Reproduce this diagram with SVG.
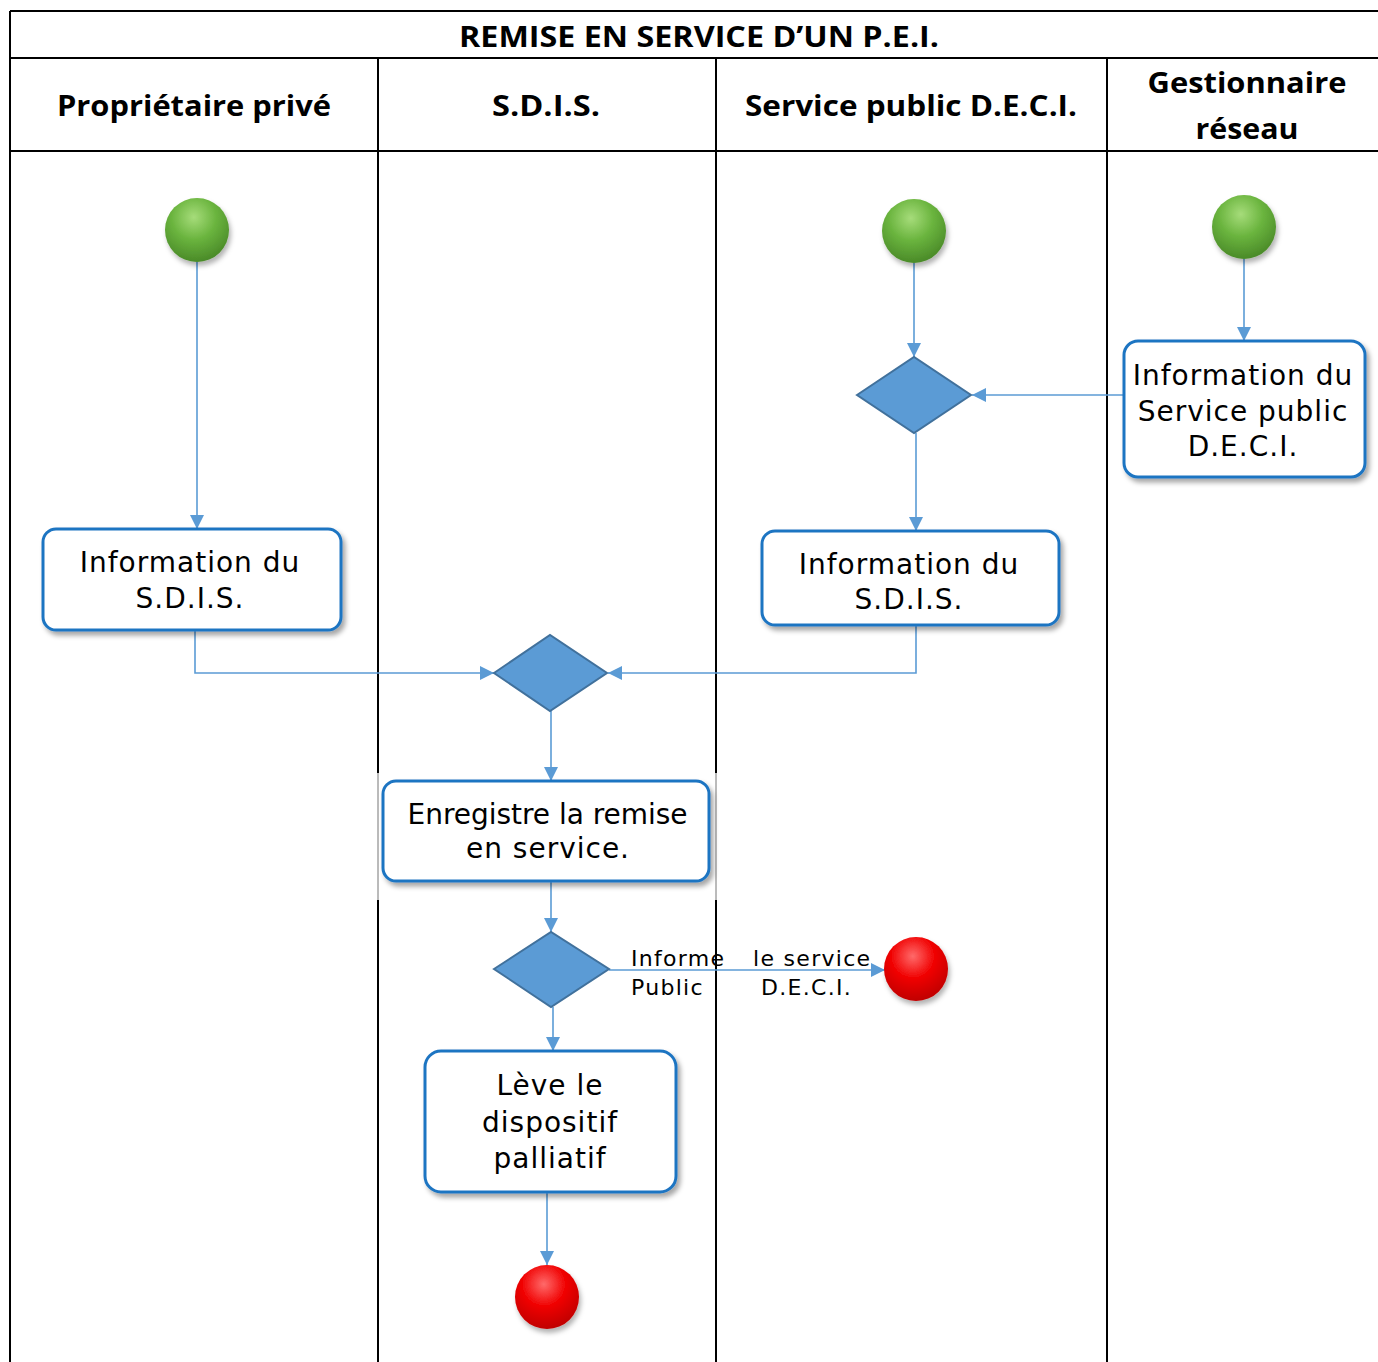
<svg xmlns="http://www.w3.org/2000/svg" width="1378" height="1362" viewBox="0 0 1378 1362">
<defs>
<style>
.grid{stroke:#000;stroke-width:2;fill:none}
.hdr{font-family:"Open Sans","Liberation Sans",sans-serif;font-weight:bold;font-size:29px;fill:#000;text-anchor:middle}
.box{fill:#fff;stroke:#1f74c2;stroke-width:3;filter:url(#sh)}
.txt{font-family:"DejaVu Sans","Liberation Sans",sans-serif;font-size:28px;letter-spacing:1px;fill:#000;text-anchor:middle}
.lbl{font-family:"DejaVu Sans","Liberation Sans",sans-serif;font-size:22px;letter-spacing:1.3px;fill:#000}
.con{stroke:#5b9bd5;stroke-width:1.6;fill:none;marker-end:url(#arr)}
.dia{fill:#5b9bd5;stroke:#41719c;stroke-width:2}
</style>
<marker id="arr" viewBox="0 0 10 10" refX="10" refY="5" markerWidth="14" markerHeight="14" markerUnits="userSpaceOnUse" orient="auto">
<path d="M0,0 L10,5 L0,10 z" fill="#5b9bd5"/>
</marker>
<filter id="sh" x="-10%" y="-10%" width="125%" height="130%">
<feDropShadow dx="3" dy="4" stdDeviation="2.5" flood-color="#000" flood-opacity="0.35"/>
</filter>
<radialGradient id="gG" cx="45%" cy="30%" r="70%">
<stop offset="0" stop-color="#a6dc7a"/>
<stop offset="0.5" stop-color="#6ab43e"/>
<stop offset="1" stop-color="#4a8a28"/>
</radialGradient>
<radialGradient id="gR" cx="45%" cy="30%" r="70%">
<stop offset="0" stop-color="#ff6a6a"/>
<stop offset="0.5" stop-color="#f00000"/>
<stop offset="1" stop-color="#c00000"/>
</radialGradient>
<filter id="csh" x="-30%" y="-30%" width="170%" height="170%">
<feDropShadow dx="2" dy="4" stdDeviation="2.5" flood-color="#000" flood-opacity="0.3"/>
</filter>
</defs>
<rect width="1378" height="1362" fill="#fff"/>
<g id="table">
<line class="grid" x1="10" y1="11" x2="1378" y2="11"/>
<line class="grid" x1="10" y1="58" x2="1378" y2="58"/>
<line class="grid" x1="10" y1="151" x2="1378" y2="151"/>
<line class="grid" x1="10" y1="11" x2="10" y2="1362"/>
<line class="grid" x1="378" y1="58" x2="378" y2="773"/>
<line class="grid" x1="378" y1="900" x2="378" y2="1362"/>
<line x1="378" y1="773" x2="378" y2="900" stroke="#777" stroke-width="1"/>
<line class="grid" x1="716" y1="58" x2="716" y2="773"/>
<line class="grid" x1="716" y1="900" x2="716" y2="1362"/>
<line x1="716" y1="773" x2="716" y2="900" stroke="#777" stroke-width="1"/>
<line class="grid" x1="1107" y1="58" x2="1107" y2="1362"/>
<text class="hdr" x="699" y="47" textLength="480" lengthAdjust="spacingAndGlyphs">REMISE EN SERVICE D’UN P.E.I.</text>
<text class="hdr" x="194" y="116" textLength="274" lengthAdjust="spacingAndGlyphs">Propriétaire privé</text>
<text class="hdr" x="546" y="116" textLength="108" lengthAdjust="spacingAndGlyphs">S.D.I.S.</text>
<text class="hdr" x="911" y="116" textLength="332" lengthAdjust="spacingAndGlyphs">Service public D.E.C.I.</text>
<text class="hdr" x="1247" y="93" textLength="199" lengthAdjust="spacingAndGlyphs">Gestionnaire</text>
<text class="hdr" x="1247" y="139" textLength="103" lengthAdjust="spacingAndGlyphs">réseau</text>
</g>
<g id="connectors">
<line class="con" x1="197" y1="262" x2="197" y2="529"/>
<line class="con" x1="914" y1="263" x2="914" y2="357"/>
<line class="con" x1="1244" y1="259" x2="1244" y2="341"/>
<line class="con" x1="1124" y1="395" x2="972" y2="395"/>
<line class="con" x1="916" y1="433" x2="916" y2="531"/>
<polyline class="con" points="916,625 916,673 608,673"/>
<polyline class="con" points="195,630 195,673 494,673"/>
<line class="con" x1="551" y1="711" x2="551" y2="781"/>
<line class="con" x1="551" y1="881" x2="551" y2="932"/>
<line class="con" x1="609" y1="970" x2="885" y2="970"/>
<line class="con" x1="553" y1="1007" x2="553" y2="1051"/>
<line class="con" x1="547" y1="1192" x2="547" y2="1265"/>
<text class="lbl" x="631" y="966">Informe</text>
<text class="lbl" x="753" y="966">le service</text>
<text class="lbl" x="631" y="995">Public</text>
<text class="lbl" x="761" y="995">D.E.C.I.</text>
</g>
<g id="start1"><circle cx="197" cy="230" r="32" fill="url(#gG)" filter="url(#csh)"/></g>
<g id="start2"><circle cx="914" cy="231" r="32" fill="url(#gG)" filter="url(#csh)"/></g>
<g id="start3"><circle cx="1244" cy="227" r="32" fill="url(#gG)" filter="url(#csh)"/></g>
<g id="box1">
<rect class="box" x="43" y="529" width="298" height="101" rx="13"/>
<text class="txt" x="190" y="572">Information du</text>
<text class="txt" x="190" y="608">S.D.I.S.</text>
</g>
<g id="box2">
<rect class="box" x="762" y="531" width="297" height="94" rx="13"/>
<text class="txt" x="909" y="574">Information du</text>
<text class="txt" x="909" y="609">S.D.I.S.</text>
</g>
<g id="box3">
<rect class="box" x="1124" y="341" width="241" height="136" rx="14"/>
<text class="txt" x="1243" y="385">Information du</text>
<text class="txt" x="1243" y="421">Service public</text>
<text class="txt" x="1243" y="456">D.E.C.I.</text>
</g>
<g id="decision1"><polygon class="dia" points="857,395 914,357 971,395 914,433"/></g>
<g id="decision2"><polygon class="dia" points="494,673 550,635 607,673 550,711"/></g>
<g id="box4">
<rect class="box" x="383" y="781" width="326" height="100" rx="13"/>
<text class="txt" x="548" y="824" textLength="281" lengthAdjust="spacing">Enregistre la remise</text>
<text class="txt" x="548" y="858">en service.</text>
</g>
<g id="decision3"><polygon class="dia" points="494,969 551,932 609,969 551,1007"/></g>
<g id="end1"><circle cx="916" cy="969" r="32" fill="url(#gR)" filter="url(#csh)"/></g>
<g id="box5">
<rect class="box" x="425" y="1051" width="251" height="141" rx="16"/>
<text class="txt" x="550" y="1095">Lève le</text>
<text class="txt" x="550" y="1132">dispositif</text>
<text class="txt" x="550" y="1168">palliatif</text>
</g>
<g id="end2"><circle cx="547" cy="1297" r="32" fill="url(#gR)" filter="url(#csh)"/></g>
</svg>
